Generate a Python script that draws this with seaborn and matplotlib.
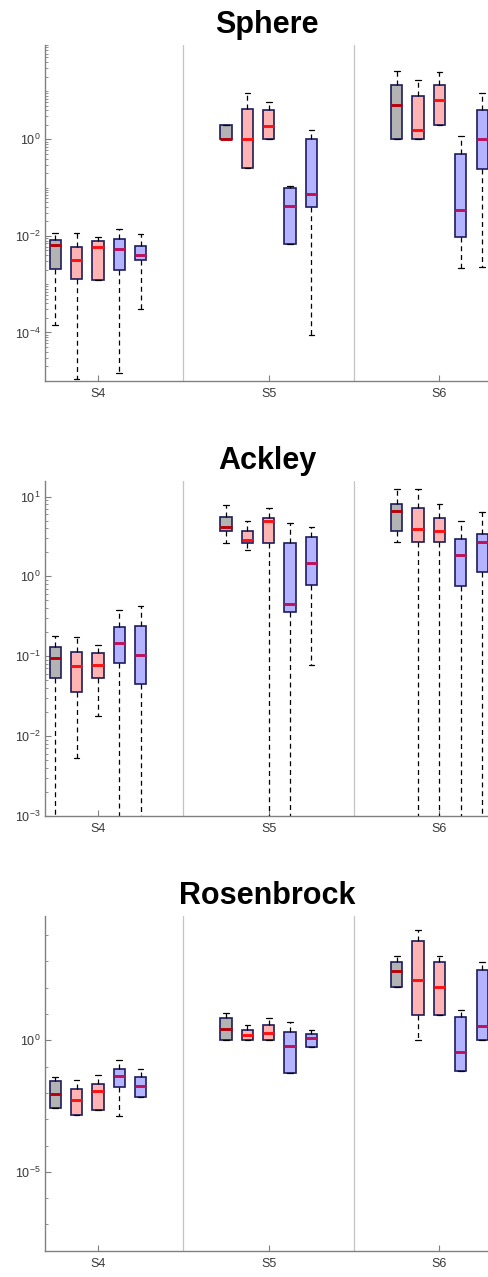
import numpy as np
import pandas as pd
import matplotlib
matplotlib.use("Agg")
import matplotlib.pyplot as plt
import seaborn as sns
from matplotlib.ticker import FixedLocator, LogLocator, NullFormatter

sns.set_theme(style="white")
plt.rcParams["font.family"] = ["Liberation Sans", "DejaVu Sans"]
plt.rcParams["mathtext.default"] = "regular"

scenarios = ["S4", "S5", "S6"]
methods = ["M1", "M2", "M3", "M4", "M5"]
box_colors = ["#b3b3b3", "#ffb3b3", "#ffb3b3", "#b3b3ff", "#b3b3ff"]
median_colors = ["#b8000a", "#ff1010", "#ff1010", "#c0105a", "#c0105a"]

# ---- Sphere: rows = S4, S5, S6 ; columns = methods
sphere_lo = [[1.45e-4, 1.07e-5, 1.22e-3, 1.43e-5, 3.1e-4],
             [1.0, 0.255, 1.0, 0.0069, 9.0e-5],
             [1.0, 1.0, 1.98, 0.0022, 0.0023]]
sphere_q1 = [[2.1e-3, 1.3e-3, 1.22e-3, 1.97e-3, 3.1e-3],
             [1.0, 0.255, 1.0, 0.0069, 0.039],
             [1.0, 1.0, 1.98, 0.0095, 0.243]]
sphere_med = [[6.4e-3, 3.2e-3, 6.0e-3, 5.4e-3, 4.1e-3],
              [1.0, 1.0, 1.91, 0.041, 0.075],
              [5.06, 1.54, 6.5, 0.035, 1.0]]
sphere_q3 = [[8.2e-3, 6.0e-3, 8.0e-3, 8.7e-3, 6.3e-3],
             [1.97, 4.3, 3.98, 0.0995, 1.0],
             [13.1, 8.0, 13.1, 0.50, 4.04]]
sphere_hi = [[0.0113, 0.0117, 0.0096, 0.0141, 0.0111],
             [1.97, 9.2, 5.83, 0.11, 1.54],
             [25.9, 16.9, 24.7, 1.17, 9.2]]

# ---- Ackley
ackley_lo = [[1e-4, 0.0053, 0.018, 1e-4, 1e-4],
             [2.64, 2.16, 1e-4, 1e-4, 0.077],
             [2.66, 1e-4, 1e-4, 1e-4, 1e-4]]
ackley_q1 = [[0.0526, 0.036, 0.0537, 0.0827, 0.045],
             [3.65, 2.64, 2.64, 0.362, 0.78],
             [3.65, 2.66, 2.66, 0.76, 1.135]]
ackley_med = [[0.094, 0.075, 0.078, 0.147, 0.103],
              [4.18, 2.85, 4.97, 0.456, 1.45],
              [6.57, 3.87, 3.65, 1.83, 2.66]]
ackley_q3 = [[0.13, 0.113, 0.111, 0.229, 0.242],
             [5.53, 3.69, 5.46, 2.64, 3.11],
             [8.0, 7.2, 5.42, 2.9, 3.39]]
ackley_hi = [[0.178, 0.175, 0.137, 0.384, 0.42],
             [7.8, 4.97, 7.2, 4.65, 4.18],
             [12.5, 12.5, 8.0, 4.93, 6.44]]

# ---- Rosenbrock
rosen_lo = [[0.00277, 0.0015, 0.0023, 0.00133, 0.0071],
            [1.0, 1.0, 1.0, 0.0567, 0.54],
            [105, 1.0, 9.0, 0.0695, 1.0]]
rosen_q1 = [[0.00277, 0.0015, 0.0023, 0.0175, 0.0071],
            [1.0, 1.0, 1.0, 0.0567, 0.54],
            [105, 9.0, 9.0, 0.0695, 1.0]]
rosen_med = [[0.0092, 0.0056, 0.012, 0.0447, 0.0186],
             [2.63, 1.65, 1.96, 0.625, 1.26],
             [417, 190, 105, 0.37, 3.42]]
rosen_q3 = [[0.028, 0.0139, 0.0222, 0.083, 0.0387],
            [7.1, 2.48, 3.96, 2.08, 1.75],
            [948, 6170, 948, 8.0, 470]]
rosen_hi = [[0.0387, 0.0306, 0.049, 0.183, 0.0805],
            [10.7, 3.74, 7.1, 5.0, 2.48],
            [1650, 15800, 1650, 14.8, 948]]


def build_frame(lo, q1, med, q3, hi):
    rows = []
    for si, s in enumerate(scenarios):
        for mi, m in enumerate(methods):
            for v in (lo[si][mi], q1[si][mi], med[si][mi], q3[si][mi], hi[si][mi]):
                rows.append({"scenario": s, "method": m, "value": v})
    return pd.DataFrame(rows)


panels = [
    ("Sphere", build_frame(sphere_lo, sphere_q1, sphere_med, sphere_q3, sphere_hi),
     (1e-5, 90), [1e-4, 1e-2, 1e0], "full"),
    ("Ackley", build_frame(ackley_lo, ackley_q1, ackley_med, ackley_q3, ackley_hi),
     (1e-3, 15.8), [1e-3, 1e-2, 1e-1, 1e0, 1e1], "full"),
    ("Rosenbrock", build_frame(rosen_lo, rosen_q1, rosen_med, rosen_q3, rosen_hi),
     (1e-8, 5.5e4), [1e-5, 1e0], "decade"),
]

fig = plt.figure(figsize=(4.89, 12.77), dpi=100)
H = 1277.0
W = 489.0
axes_px = [(45, 45, 380.7), (45, 480.7, 815.7), (45, 915.7, 1250.7)]

tick_color = "#383838"
spine_color = "#808080"

for (title, df, ylim, majors, minor_mode), (lx, top, bot) in zip(panels, axes_px):
    ax = fig.add_axes([lx / W, 1 - bot / H, 1 - lx / W, (bot - top) / H])
    sns.boxplot(
        data=df, x="scenario", y="value", hue="method",
        order=scenarios, hue_order=methods, palette=box_colors,
        saturation=1, width=0.625, gap=0.47, whis=np.inf, dodge=True,
        log_scale=(False, True), showfliers=False, legend=False,
        linewidth=1.2, linecolor="#1c1c5c",
        whiskerprops={"color": "black", "linestyle": (0, (4, 3)), "linewidth": 0.9},
        capprops={"color": "black", "linewidth": 0.9},
        medianprops={"linewidth": 2.1},
        ax=ax,
    )
    for i, cont in enumerate(ax.containers):
        meds = getattr(cont, "medians", None)
        if meds is not None:
            for m in meds:
                m.set_color(median_colors[i % len(median_colors)])
    for xsep in (0.5, 1.5):
        ax.axvline(xsep, color="#c4c4c4", lw=0.9, zorder=0)
    ax.set_xlim(-0.31, 2.29)
    ax.set_ylim(*ylim)
    ax.set_xlabel("")
    ax.set_ylabel("")
    ax.set_title(title, fontsize=22, fontweight="bold", pad=8.5, color="black")

    ax.yaxis.set_major_locator(FixedLocator(majors))
    if minor_mode == "full":
        ax.yaxis.set_minor_locator(LogLocator(base=10, subs=np.arange(1, 10), numticks=100))
    else:
        ax.yaxis.set_minor_locator(LogLocator(base=10, subs=(1.0,), numticks=100))
    ax.yaxis.set_minor_formatter(NullFormatter())

    for side in ("top", "right"):
        ax.spines[side].set_visible(False)
    for side in ("left", "bottom"):
        ax.spines[side].set_visible(True)
        ax.spines[side].set_color(spine_color)
        ax.spines[side].set_linewidth(1.0)

    ax.tick_params(axis="both", which="major", direction="in", length=4, width=0.8,
                   colors=spine_color, labelcolor=tick_color, labelsize=9)
    ax.tick_params(axis="y", which="minor", direction="in", length=2.5, width=0.6,
                   colors=spine_color)
    ax.tick_params(axis="x", which="major", pad=5, bottom=True)
    ax.tick_params(axis="y", which="both", left=True, right=False, pad=3)
    ax.tick_params(axis="x", which="minor", bottom=False)
    ax.grid(False)
    ax.set_facecolor("white")

fig.savefig("out.png", dpi=100, facecolor="white")
